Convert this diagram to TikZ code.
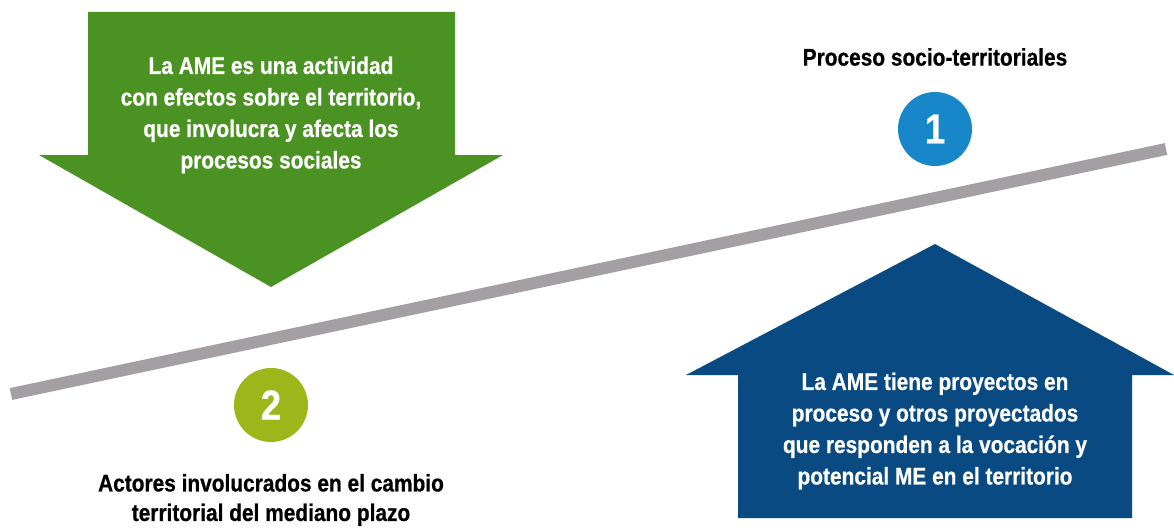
\documentclass[tikz,border=0pt]{standalone}
\usepackage{fontspec}
\setmainfont{Liberation Sans}[FakeStretch=0.87,BoldFeatures={FakeBold=0.6}]
\usetikzlibrary{positioning}
\definecolor{amegreen}{HTML}{4A9322}
\definecolor{ameblue}{HTML}{0A4A83}
\definecolor{amegray}{HTML}{A39FA3}
\definecolor{oneblue}{HTML}{1787C9}
\definecolor{twogreen}{HTML}{9DB71A}
\tikzset{
  txt/.style={align=center,font=\bfseries\fontsize{24}{31.5}\selectfont},
  numc/.style={circle,minimum size=74pt,inner sep=0pt,text=white,font=\bfseries\fontsize{42}{42}\selectfont}
}
\begin{document}
\begin{tikzpicture}[x=1pt,y=-1pt]
\useasboundingbox[fill=white] (0,0) rectangle (1174,527);
% gray line
\coordinate (l0) at (11,394);
\coordinate (l1) at (1166,149);
\draw[amegray,line width=12pt] (l0) -- (l1);
% green arrow
\fill[amegreen] (88,12) -- (455,12) -- (455,155) -- (503,155) -- (271,287) -- (39,155) -- (88,155) -- cycle;
\node[txt,text=white] (t1) at (271,115) {La AME es una actividad\\con efectos sobre el territorio,\\que involucra y afecta los\\procesos sociales};
% blue arrow
\fill[ameblue] (935,244) -- (1174,375) -- (1132,375) -- (1132,518) -- (738,518) -- (738,375) -- (686,375) -- cycle;
\node[txt,text=white] (t2) at (935,431) {La AME tiene proyectos en\\proceso y otros proyectados\\que responden a la vocación y\\potencial ME en el territorio};
% numbers
\node[numc,fill=oneblue] (n1) at (935,129) {1};
\node[numc,fill=twogreen] (n2) at (271,405) {2};
\node[txt] (p1) at (935,57) {Proceso socio-territoriales};
\node[txt,font=\bfseries\fontsize{24}{29.5}\selectfont,inner sep=1pt] (p2) at (271,500) {Actores involucrados en el cambio\\territorial del mediano plazo};
\end{tikzpicture}
\end{document}
